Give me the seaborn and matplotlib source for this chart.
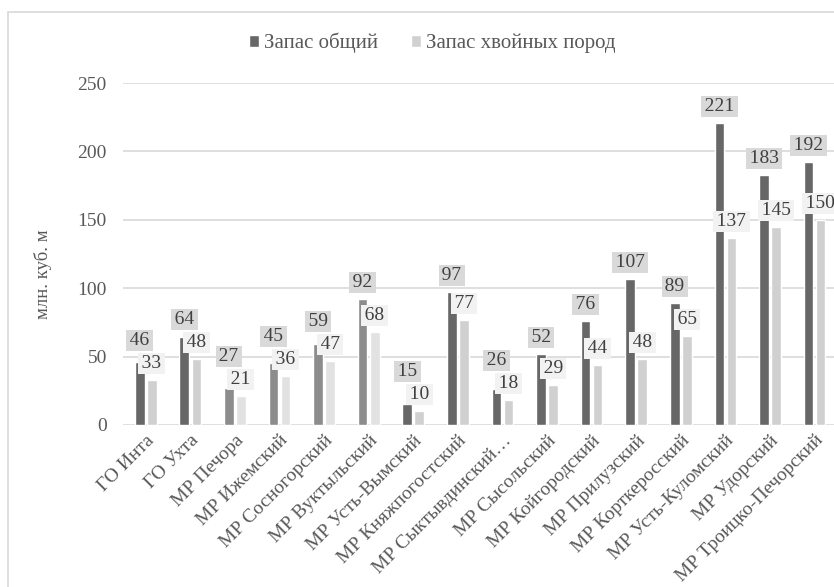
"""
Запас древесины по муниципальным образованиям
"""

import numpy as np
import pandas as pd
import matplotlib
matplotlib.use("Agg")
import matplotlib.pyplot as plt
from matplotlib.patches import Rectangle
import seaborn as sns

# данные
districts = [
    "ГО Инта", "ГО Ухта", "МР Печора", "МР Ижемский", "МР Сосногорский",
    "МР Вуктыльский", "МР Усть-Вымский", "МР Княжпогостский",
    "МР Сыктывдинский…", "МР Сысольский", "МР Койгородский",
    "МР Прилузский", "МР Корткеросский", "МР Усть-Куломский",
    "МР Удорский", "МР Троицко-Печорский",
]
total_stock = [46, 64, 27, 45, 59, 92, 15, 97, 26, 52, 76, 107, 89, 221, 183, 192]
conifer_stock = [33, 48, 21, 36, 47, 68, 10, 77, 18, 29, 44, 48, 65, 137, 145, 150]
series_names = ["Запас общий", "Запас хвойных пород"]
y_ticks = [0, 50, 100, 150, 200, 250]

# выделенные точки (другой оттенок)
accent = ["МР Печора", "МР Ижемский", "МР Сосногорский", "МР Вуктыльский"]

df = pd.DataFrame({
    "district": districts * 2,
    "series": [series_names[0]] * len(districts) + [series_names[1]] * len(districts),
    "value": total_stock + conifer_stock,
})

sns.set_theme(style="white")
plt.rcParams["font.family"] = ["Liberation Serif", "DejaVu Serif"]

fig = plt.figure(figsize=(8.34, 5.87), dpi=100)
ax = fig.add_axes([0.148, 0.276, 0.8555, 0.5826])

palette = {series_names[0]: "#676767", series_names[1]: "#d0d0d0"}
accent_colors = ["#8c8c8c", "#e2e2e2"]
label_bg = ["#d9d9d9", "#f2f2f2"]

sns.barplot(data=df, x="district", y="value", hue="series", order=districts,
            hue_order=series_names, palette=palette, width=0.54, gap=0.2,
            saturation=1, ax=ax, zorder=2)

for k, cont in enumerate(ax.containers):
    for name, bar in zip(districts, cont):
        if name in accent:
            bar.set_facecolor(accent_colors[k])

ax.set_ylim(0, 250)
ax.set_xlim(-0.5, len(districts) - 0.5)

# подписи данных: подпись общего запаса поднимается над подписью хвойных
px_per_unit = ax.transData.transform((0, 1))[1] - ax.transData.transform((0, 0))[1]
pt = 72 / fig.dpi
gap_px, box_px = 6, 25
hs = "\u200a"
for k, cont in enumerate(ax.containers):
    for i, bar in enumerate(cont):
        v = bar.get_height()
        lift = gap_px
        if k == 0:
            lift = max(gap_px, (conifer_stock[i] - total_stock[i]) * px_per_unit
                       + gap_px + box_px - 2)
        ax.annotate(f"{hs}{v:.0f}{hs}", (bar.get_x() + bar.get_width() / 2, v),
                    xytext=(0, (lift + 2) * pt), textcoords="offset points",
                    ha="center", va="bottom", fontsize=14, color="#404040",
                    zorder=5 + k, annotation_clip=False,
                    bbox=dict(boxstyle="square,pad=0.1", fc=label_bg[k], ec="none"))

ax.set_yticks(y_ticks)
ax.yaxis.grid(True, color="#d9d9d9", linewidth=1.2, zorder=0)
ax.set_axisbelow(True)
sns.despine(ax=ax, left=True, bottom=True)
ax.tick_params(axis="both", length=0, labelsize=14, labelcolor="#595959")
ax.tick_params(axis="y", pad=12)
ax.tick_params(axis="x", pad=5)
plt.setp(ax.get_xticklabels(), rotation=45, ha="right", va="top",
         rotation_mode="anchor")
ax.set_xlabel("")
ax.set_ylabel("млн. куб. м", fontsize=13.5, color="#595959")
ax.yaxis.set_label_coords(-0.1, 0.44)

handles, labels = ax.get_legend_handles_labels()
ax.get_legend().remove()
fig.legend(handles, labels, loc="center", bbox_to_anchor=(0.518, 0.927), ncol=2,
           frameon=False, fontsize=15, handlelength=0.5, handleheight=0.5,
           handletextpad=0.2, columnspacing=1.6, labelcolor="#595959")

# рамка диаграммы
fig.add_artist(Rectangle((0.0096, -0.01), 1.1, 0.9896, transform=fig.transFigure,
                         fill=False, ec="#d9d9d9", lw=1.2))

plt.savefig("out.png", dpi=100)
plt.close()
